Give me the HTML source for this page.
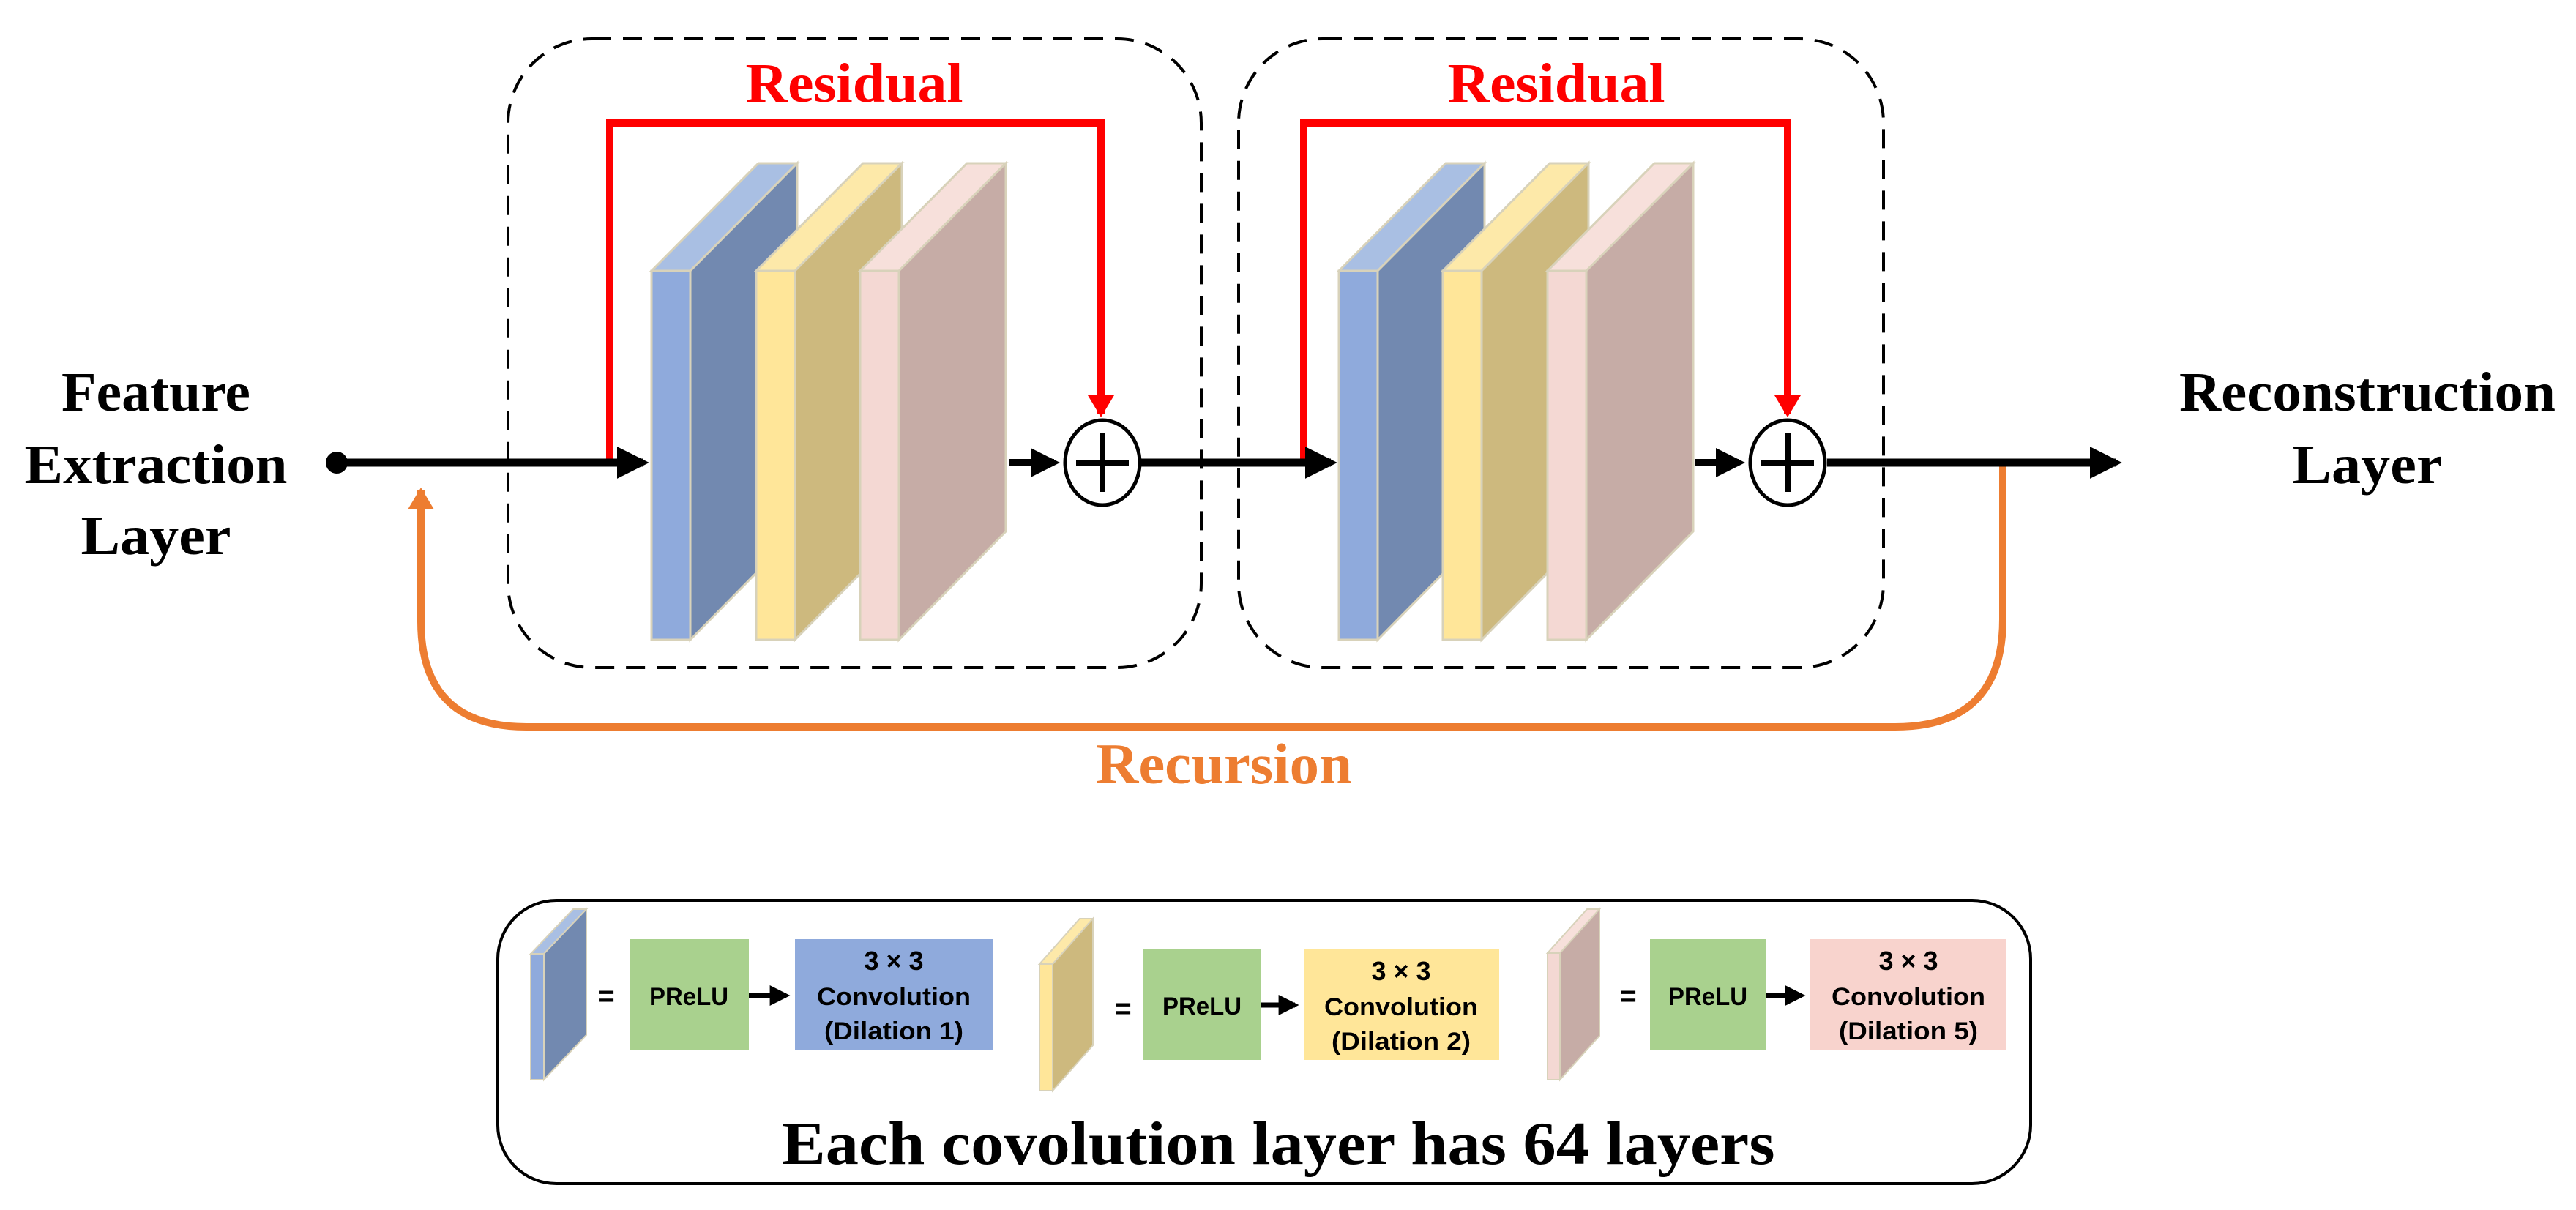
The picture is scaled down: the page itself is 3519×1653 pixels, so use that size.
<!DOCTYPE html>
<html><head><meta charset="utf-8"><style>
html,body{margin:0;padding:0;background:#fff;}
svg{display:block;}
.t{font-family:"Liberation Serif",serif;font-weight:bold;}
.s{font-family:"Liberation Sans",sans-serif;font-weight:bold;}
</style></head><body>
<svg width="3519" height="1653" viewBox="0 0 3519 1653" xmlns="http://www.w3.org/2000/svg">
<defs>
<marker id="ab" markerWidth="4" markerHeight="4" refX="3.2" refY="2" orient="auto" markerUnits="strokeWidth"><path d="M0,0 L4,2 L0,4 z" fill="#000"/></marker>
<marker id="ar" markerWidth="3" markerHeight="3.6" refX="2.6" refY="1.8" orient="auto" markerUnits="strokeWidth"><path d="M0,0 L3,1.8 L0,3.6 z" fill="#f00"/></marker>
<marker id="ao" markerWidth="3" markerHeight="3.6" refX="2.6" refY="1.8" orient="auto" markerUnits="strokeWidth"><path d="M0,0 L3,1.8 L0,3.6 z" fill="#ed7d31"/></marker>
<g id="slabB"><polygon points="0,0 53,0 199,-147 146,-147" fill="#a9bfe3" stroke="#d8d2ba" stroke-width="3"/><polygon points="53,0 199,-147 199,356 53,504" fill="#7289b0" stroke="#d8d2ba" stroke-width="3"/><rect x="0" y="0" width="53" height="504" fill="#8faadc" stroke="#d8d2ba" stroke-width="3"/></g>
<g id="slabY"><polygon points="0,0 53,0 199,-147 146,-147" fill="#fde9a9" stroke="#d8d2ba" stroke-width="3"/><polygon points="53,0 199,-147 199,356 53,504" fill="#cdb97e" stroke="#d8d2ba" stroke-width="3"/><rect x="0" y="0" width="53" height="504" fill="#ffe699" stroke="#d8d2ba" stroke-width="3"/></g>
<g id="slabP"><polygon points="0,0 53,0 199,-147 146,-147" fill="#f7e0db" stroke="#d8d2ba" stroke-width="3"/><polygon points="53,0 199,-147 199,356 53,504" fill="#c6aca6" stroke="#d8d2ba" stroke-width="3"/><rect x="0" y="0" width="53" height="504" fill="#f4d8d3" stroke="#d8d2ba" stroke-width="3"/></g>
<g id="plus"><ellipse cx="0" cy="0" rx="51" ry="58" fill="#fff" stroke="#000" stroke-width="5"/><line x1="-36" y1="0" x2="36" y2="0" stroke="#000" stroke-width="8"/><line x1="0" y1="-40" x2="0" y2="40" stroke="#000" stroke-width="8"/></g>
</defs>

<rect x="694" y="53" width="947" height="859" rx="115" ry="115" fill="none" stroke="#000" stroke-width="4" stroke-dasharray="26,16"/>
<rect x="1692" y="53" width="881" height="859" rx="115" ry="115" fill="none" stroke="#000" stroke-width="4" stroke-dasharray="26,16"/>

<polyline points="833,632 833,168 1504,168 1504,566" fill="none" stroke="#f00" stroke-width="10" marker-end="url(#ar)"/>
<polyline points="1781,632 1781,168 2442,168 2442,566" fill="none" stroke="#f00" stroke-width="10" marker-end="url(#ar)"/>
<text x="1167" y="139" class="t" font-size="76" fill="#f00" text-anchor="middle" textLength="297" lengthAdjust="spacingAndGlyphs">Residual</text>
<text x="2126" y="139" class="t" font-size="76" fill="#f00" text-anchor="middle" textLength="297" lengthAdjust="spacingAndGlyphs">Residual</text>

<path d="M2736,632 L2736,846 Q2736,993 2589,993 L719,993 Q575,993 575,849 L575,670" fill="none" stroke="#ed7d31" stroke-width="10" marker-end="url(#ao)"/>
<text x="1672" y="1070" class="t" font-size="78" fill="#ed7d31" text-anchor="middle" textLength="350" lengthAdjust="spacingAndGlyphs">Recursion</text>

<circle cx="460" cy="632" r="15" fill="#000"/>
<line x1="460" y1="632" x2="878" y2="632" stroke="#000" stroke-width="11" marker-end="url(#ab)"/>
<line x1="1558" y1="632" x2="1818" y2="632" stroke="#000" stroke-width="11" marker-end="url(#ab)"/>
<line x1="2496" y1="632" x2="2890" y2="632" stroke="#000" stroke-width="11" marker-end="url(#ab)"/>

<use href="#slabB" x="890" y="370"/>
<use href="#slabY" x="1033" y="370"/>
<use href="#slabP" x="1175" y="370"/>
<use href="#slabB" x="1829" y="370"/>
<use href="#slabY" x="1971" y="370"/>
<use href="#slabP" x="2114" y="370"/>

<line x1="1378" y1="632" x2="1440" y2="632" stroke="#000" stroke-width="10" marker-end="url(#ab)"/>
<line x1="2316" y1="632" x2="2376" y2="632" stroke="#000" stroke-width="10" marker-end="url(#ab)"/>
<use href="#plus" x="1506" y="632"/>
<use href="#plus" x="2442" y="632"/>

<g class="t" font-size="76" fill="#000" text-anchor="middle">
<text x="213" y="561" textLength="258" lengthAdjust="spacingAndGlyphs">Feature</text>
<text x="213" y="660" textLength="359" lengthAdjust="spacingAndGlyphs">Extraction</text>
<text x="213" y="757" textLength="205" lengthAdjust="spacingAndGlyphs">Layer</text>
<text x="3234" y="561" textLength="514" lengthAdjust="spacingAndGlyphs">Reconstruction</text>
<text x="3234" y="660" textLength="205" lengthAdjust="spacingAndGlyphs">Layer</text>
</g>

<rect x="680" y="1230" width="2094" height="387" rx="80" ry="80" fill="#fff" stroke="#000" stroke-width="4"/>
<g stroke="#d8d2ba" stroke-width="2">
<polygon points="725,1303 743,1303 801,1242 783,1242" fill="#a9bfe3"/><polygon points="743,1303 801,1242 801,1414 743,1475" fill="#7289b0"/><rect x="725" y="1303" width="18" height="172" fill="#8faadc"/>
<polygon points="1420,1317 1438,1317 1493,1255 1475,1255" fill="#fde9a9"/><polygon points="1438,1317 1493,1255 1493,1428 1438,1490" fill="#cdb97e"/><rect x="1420" y="1317" width="18" height="173" fill="#ffe699"/>
<polygon points="2114,1302 2131,1302 2185,1242 2168,1242" fill="#f7e0db"/><polygon points="2131,1302 2185,1242 2185,1415 2131,1475" fill="#c6aca6"/><rect x="2114" y="1302" width="17" height="173" fill="#f4d8d3"/>
</g>
<g class="s" font-size="40" fill="#000" text-anchor="middle">
<text x="828" y="1374">=</text><text x="1534" y="1391">=</text><text x="2224" y="1374">=</text>
</g>
<rect x="860" y="1283" width="163" height="152" fill="#a9d18e"/>
<rect x="1086" y="1283" width="270" height="152" fill="#8faadc"/>
<rect x="1562" y="1297" width="160" height="151" fill="#a9d18e"/>
<rect x="1781" y="1297" width="267" height="151" fill="#ffe699"/>
<rect x="2254" y="1283" width="158" height="152" fill="#a9d18e"/>
<rect x="2473" y="1283" width="268" height="152" fill="#f8d3cd"/>
<line x1="1023" y1="1360" x2="1074" y2="1360" stroke="#000" stroke-width="7" marker-end="url(#ab)"/>
<line x1="1722" y1="1373" x2="1769" y2="1373" stroke="#000" stroke-width="7" marker-end="url(#ab)"/>
<line x1="2412" y1="1360" x2="2461" y2="1360" stroke="#000" stroke-width="7" marker-end="url(#ab)"/>
<g class="s" font-size="34" fill="#000" text-anchor="middle">
<text x="941" y="1373" textLength="108" lengthAdjust="spacingAndGlyphs">PReLU</text>
<text x="1221" y="1325" font-size="36">3 × 3</text><text x="1221" y="1373" textLength="210" lengthAdjust="spacingAndGlyphs">Convolution</text><text x="1221" y="1420" textLength="190" lengthAdjust="spacingAndGlyphs">(Dilation 1)</text>
<text x="1642" y="1386" textLength="108" lengthAdjust="spacingAndGlyphs">PReLU</text>
<text x="1914" y="1339" font-size="36">3 × 3</text><text x="1914" y="1387" textLength="210" lengthAdjust="spacingAndGlyphs">Convolution</text><text x="1914" y="1434" textLength="190" lengthAdjust="spacingAndGlyphs">(Dilation 2)</text>
<text x="2333" y="1373" textLength="108" lengthAdjust="spacingAndGlyphs">PReLU</text>
<text x="2607" y="1325" font-size="36">3 × 3</text><text x="2607" y="1373" textLength="210" lengthAdjust="spacingAndGlyphs">Convolution</text><text x="2607" y="1420" textLength="190" lengthAdjust="spacingAndGlyphs">(Dilation 5)</text>
</g>
<text x="1746" y="1590" class="t" font-size="84" fill="#000" text-anchor="middle" textLength="1357" lengthAdjust="spacingAndGlyphs">Each covolution layer has 64 layers</text>
</svg>
</body></html>
